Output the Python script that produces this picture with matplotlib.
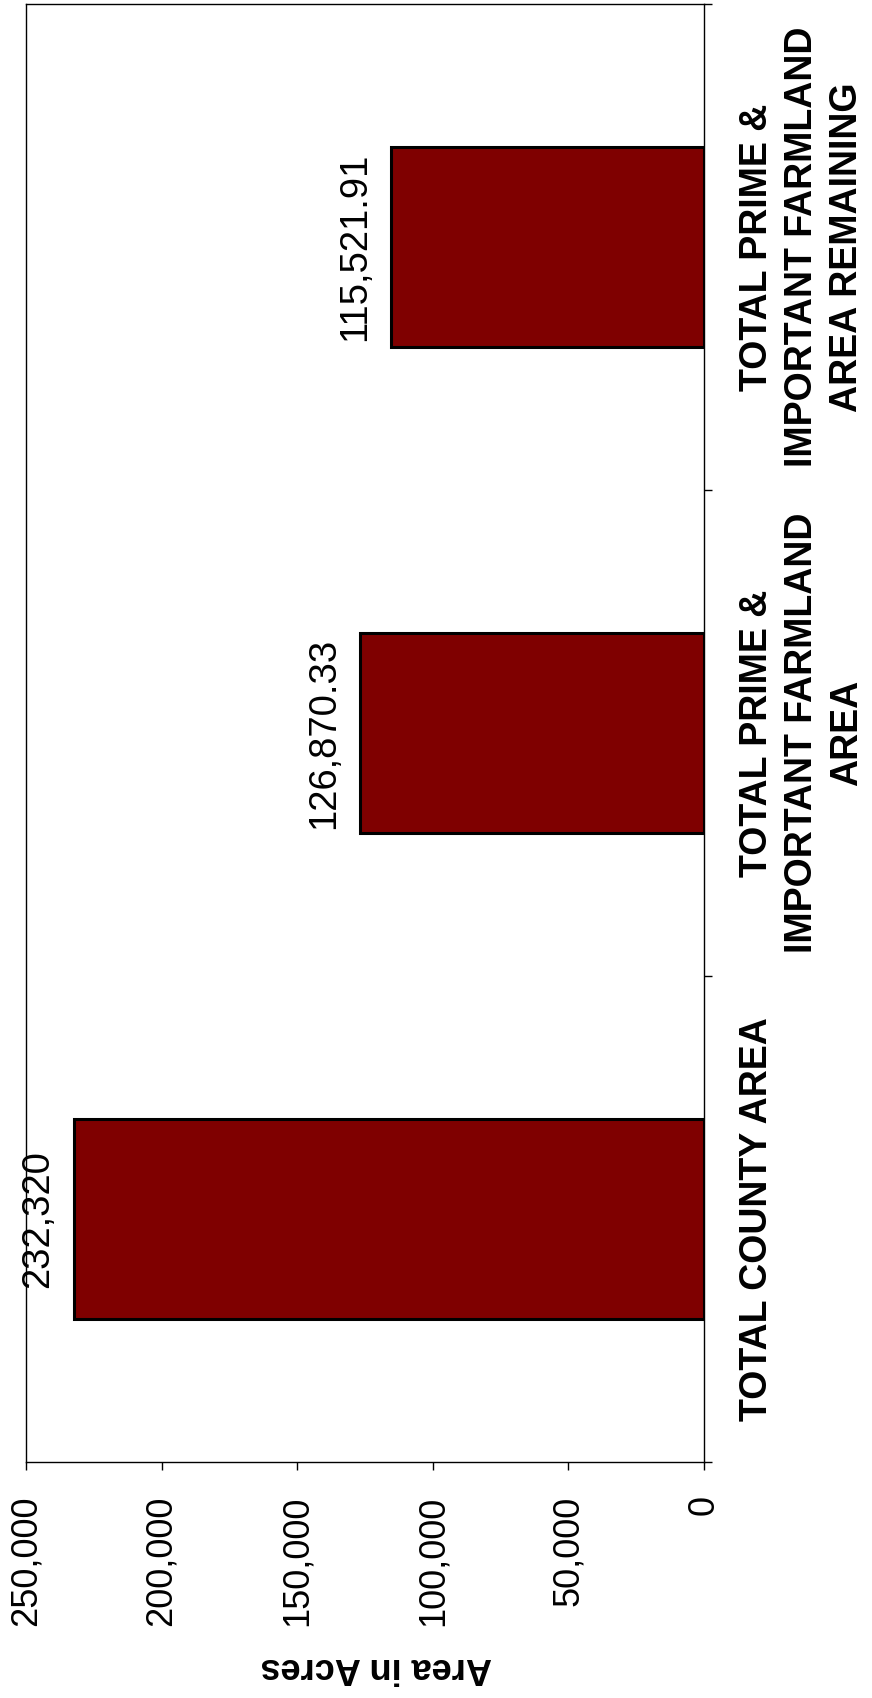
import matplotlib
matplotlib.use("Agg")
import matplotlib.pyplot as plt
import numpy as np
from matplotlib.ticker import FuncFormatter

plt.rcParams['font.family'] = ['Liberation Sans', 'DejaVu Sans']

categories = ['TOTAL COUNTY AREA',
              'TOTAL PRIME &\nIMPORTANT FARMLAND\nAREA',
              'TOTAL PRIME &\nIMPORTANT FARMLAND\nAREA REMAINING']
values = [232320, 126870.33, 115521.91]
value_labels = ['232,320', '126,870.33', '115,521.91']
value_ticks = [0, 50000, 100000, 150000, 200000, 250000]

fig = plt.figure(figsize=(8.72, 16.98), dpi=100)
ax = fig.add_axes([26 / 872, 236 / 1698, 678 / 872, 1458 / 1698])

pos = np.arange(len(categories))
ax.barh(pos, values, height=0.41, color='#7f0000', edgecolor='black', linewidth=2.2, zorder=3)

ax.set_xlim(250000, 0)
ax.set_ylim(-0.5, len(categories) - 0.5)

# value labels past the end of each bar
for p, v, lab in zip(pos, values, value_labels):
    ax.annotate(lab, (v, p), xytext=(-13, 0), textcoords='offset points',
                rotation=90, ha='right', va='center', fontsize=27.5)

# value axis (bottom)
ax.set_xticks(value_ticks)
ax.xaxis.set_major_formatter(FuncFormatter(lambda x, p: f'{int(x):,}'))
ax.tick_params(axis='x', direction='out', length=6, width=1, pad=18, labelsize=26,
               labelrotation=90)
ax.set_xlabel('Area in Acres', fontsize=26, fontweight='bold', rotation=180,
              ha='center', va='center')
ax.xaxis.set_label_coords(0.516, -0.141)

# category axis (right)
ax.yaxis.tick_right()
ax.set_yticks(pos)
ax.set_yticklabels(categories, rotation=90, fontsize=27, fontweight='bold',
                   ha='left', va='center', multialignment='center', linespacing=1.33)
ax.set_yticks(np.arange(len(categories) + 1) - 0.5, minor=True)
ax.tick_params(axis='y', which='major', length=0, pad=25)
ax.tick_params(axis='y', which='minor', length=6, width=1, direction='out',
               right=True, left=False)

for s in ax.spines.values():
    s.set_linewidth(1)
    s.set_color('black')

fig.savefig('out.png', dpi=100)
